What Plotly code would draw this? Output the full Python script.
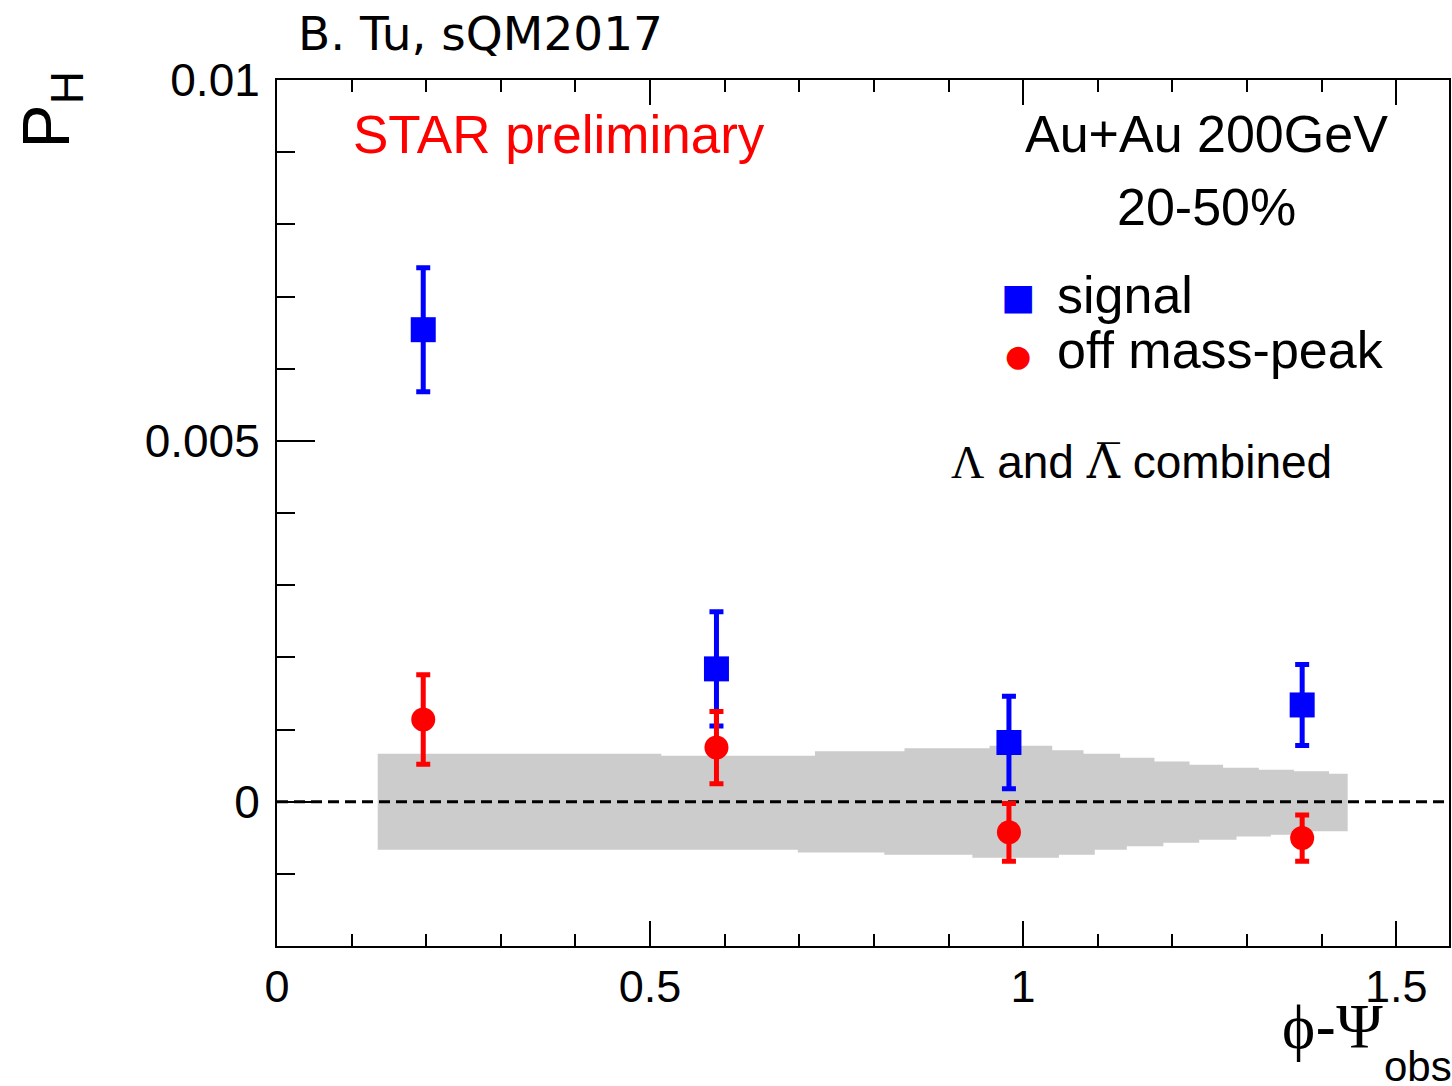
import math
import plotly.graph_objects as go

# ---------------- data ----------------
phi = [0.196, 0.589, 0.981, 1.374]
signal = [0.00654, 0.00184, 0.00082, 0.00134]
signal_err = [0.00086, 0.00079, 0.00064, 0.00056]
offpeak = [0.00114, 0.00075, -0.000425, -0.000505]
offpeak_err = [0.00062, 0.00050, 0.00040, 0.00032]

# systematic band (step histogram) : upper and lower edges
band_up_edges = [0.135, 0.515, 0.721, 0.841, 0.955, 1.039, 1.081, 1.130, 1.176,
                 1.223, 1.268, 1.316, 1.363, 1.410, 1.435]
band_up_vals = [0.000665, 0.000637, 0.000697, 0.000741, 0.000776, 0.000711, 0.000665,
                0.000609, 0.000558, 0.000512, 0.000471, 0.000443, 0.000420, 0.000388]
band_lo_edges = [0.135, 0.698, 0.814, 0.932, 1.048, 1.096, 1.139, 1.188, 1.236,
                 1.286, 1.332, 1.379, 1.435]
band_lo_vals = [-0.000665, -0.000706, -0.000734, -0.000776, -0.000734, -0.000665,
                -0.000619, -0.000568, -0.000526, -0.000481, -0.000457, -0.000411]

x_range = [0, math.pi / 2]
y_range = [-0.002, 0.01]
x_ticks = [0, 0.5, 1, 1.5]
x_ticklabels = ["0", "0.5", "1", "1.5"]
y_ticks = [0, 0.005, 0.01]
y_ticklabels = ["0", "0.005", "0.01"]

# ---------------- layout geometry ----------------
W, H = 1452, 1086
ML, MR, MT, MB = 277, 1, 80, 140
PW, PH = W - ML - MR, H - MT - MB


def px_x(p):
    return (p - ML) / PW


def px_y(p):
    return (MT + PH - p) / PH


# band polygon built from step arrays
bx, by = [], []
for i, v in enumerate(band_up_vals):
    bx += [band_up_edges[i], band_up_edges[i + 1]]
    by += [v, v]
for i in range(len(band_lo_vals) - 1, -1, -1):
    bx += [band_lo_edges[i + 1], band_lo_edges[i]]
    by += [band_lo_vals[i], band_lo_vals[i]]
bx.append(bx[0])
by.append(by[0])

fig = go.Figure()
fig.add_trace(go.Scatter(x=bx, y=by, mode="lines", fill="toself",
                         fillcolor="#cccccc", line=dict(width=0, color="#cccccc"),
                         hoverinfo="skip", showlegend=False))
fig.add_trace(go.Scatter(x=x_range, y=[0, 0], mode="lines",
                         line=dict(color="black", width=3, dash="11px,6px"),
                         hoverinfo="skip", showlegend=False))
fig.add_trace(go.Scatter(x=phi, y=signal, mode="markers", name="signal",
                         marker=dict(symbol="square", size=25, color="#0000ff"),
                         error_y=dict(type="data", array=signal_err, color="#0000ff",
                                      thickness=5, width=7),
                         showlegend=False))
fig.add_trace(go.Scatter(x=phi, y=offpeak, mode="markers", name="off mass-peak",
                         marker=dict(symbol="circle", size=24, color="#ff0000"),
                         error_y=dict(type="data", array=offpeak_err, color="#ff0000",
                                      thickness=5, width=7),
                         showlegend=False))

SANS = "Liberation Sans, Arial, sans-serif"

annotations = [
    dict(text="B. Tu, sQM2017", x=px_x(296), y=px_y(33), xanchor="left", yanchor="middle",
         font=dict(family="DejaVu Sans", size=47, color="black")),
    dict(text="STAR preliminary", x=px_x(351), y=px_y(134), xanchor="left", yanchor="middle",
         font=dict(family=SANS, size=53, color="#ff0000")),
    dict(text="Au+Au 200GeV", x=px_x(1208), y=px_y(134), xanchor="center", yanchor="middle",
         font=dict(family=SANS, size=52, color="black")),
    dict(text="20-50%", x=px_x(1208), y=px_y(207), xanchor="center", yanchor="middle",
         font=dict(family=SANS, size=52, color="black")),
    dict(text="■", x=px_x(1019), y=px_y(296), xanchor="center", yanchor="middle",
         font=dict(family="DejaVu Sans", size=36, color="#0000ff")),
    dict(text="●", x=px_x(1019), y=px_y(355), xanchor="center", yanchor="middle",
         font=dict(family="DejaVu Sans", size=30, color="#ff0000")),
    dict(text="signal", x=px_x(1056), y=px_y(295), xanchor="left", yanchor="middle",
         font=dict(family=SANS, size=52, color="black")),
    dict(text="off mass-peak", x=px_x(1056), y=px_y(350), xanchor="left", yanchor="middle",
         font=dict(family=SANS, size=52, color="black")),
    dict(text="<span style='font-family:Liberation Serif'>Λ</span> and "
              "<span style='font-family:DejaVu Serif'>Λ\u0305</span> combined",
         x=px_x(950), y=px_y(462), xanchor="left", yanchor="middle",
         font=dict(family=SANS, size=46, color="black")),
    dict(text="P<sub>H</sub>", x=px_x(51), y=px_y(110), xanchor="center", yanchor="middle",
         textangle=-90, font=dict(family=SANS, size=66, color="black")),
    dict(text="<span style='font-family:Liberation Serif'>ϕ</span>-"
              "<span style='font-family:Liberation Serif'>Ψ</span>",
         x=px_x(1387), y=px_y(1026), xanchor="right", yanchor="middle",
         font=dict(family=SANS, size=63, color="black")),
    dict(text="obs", x=px_x(1384), y=px_y(1066), xanchor="left", yanchor="middle",
         font=dict(family=SANS, size=42, color="black")),
]
for a in annotations:
    a.update(xref="paper", yref="paper", showarrow=False)

fig.update_layout(
    width=W, height=H,
    margin=dict(l=ML, r=MR, t=MT, b=MB),
    paper_bgcolor="white", plot_bgcolor="white",
    showlegend=False,
    annotations=annotations,
    xaxis=dict(range=x_range, tickmode="array", tickvals=x_ticks,
               ticktext=x_ticklabels,
               showgrid=False, zeroline=False,
               showline=True, linecolor="black", linewidth=2, mirror="ticks",
               ticks="inside", ticklen=25, tickwidth=2, tickcolor="black",
               minor=dict(dtick=0.1, tick0=0, ticks="inside", ticklen=12,
                          tickwidth=2, tickcolor="black", showgrid=False),
               tickfont=dict(family=SANS, size=45, color="black"),
               ticklabelstandoff=0),
    yaxis=dict(range=y_range, tickmode="array", tickvals=y_ticks,
               ticktext=y_ticklabels,
               showgrid=False, zeroline=False,
               showline=True, linecolor="black", linewidth=2, mirror=True,
               ticks="inside", ticklen=38, tickwidth=2, tickcolor="black",
               minor=dict(dtick=0.001, tick0=0, ticks="inside", ticklen=18,
                          tickwidth=2, tickcolor="black", showgrid=False),
               tickfont=dict(family=SANS, size=46, color="black"),
               ticklabelstandoff=6),
)

fig.write_html("out.html")
